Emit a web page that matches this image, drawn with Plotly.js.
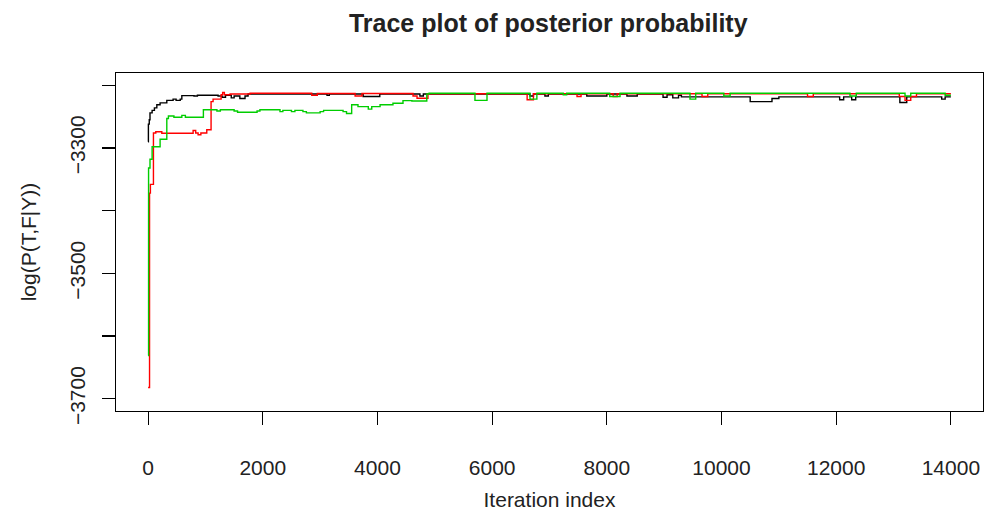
<!DOCTYPE html>
<html>
<head>
<meta charset="utf-8">
<script src="https://cdn.plot.ly/plotly-3.0.1.min.js"></script>
<style>html,body{margin:0;padding:0;background:#fff;}#chart{width:995px;height:511px;}</style>
</head>
<body>
<div id="chart"></div>
<script>
const blackIter = [0, 5, 20, 33, 70, 110, 152, 209, 326, 436, 488, 560, 588, 800, 860, 1000, 1220, 1290, 1350, 1450, 1500, 1600, 1690, 1743, 3120, 3160, 3750, 4040, 4740, 4800, 6660, 6720, 6920, 6980, 7650, 8000, 8350, 8530, 8980, 9050, 9150, 9250, 9300, 10500, 10880, 11000, 12060, 12130, 12270, 12340, 13110, 13230, 13840, 13900, 14000];
const blackVal = [-3290, -3262, -3255, -3244, -3240, -3236, -3231, -3228, -3224, -3222, -3224, -3222, -3216.5, -3217, -3216, -3216, -3217, -3219, -3216, -3220, -3217, -3221, -3217, -3214, -3216, -3214, -3218, -3214, -3217, -3214, -3217, -3214, -3217, -3214, -3217, -3214, -3217, -3214, -3219, -3215, -3220, -3216, -3218.5, -3226, -3221, -3218.5, -3223, -3218.5, -3223, -3218.5, -3227.5, -3218.5, -3222, -3218.5, -3218.5];

const redIter = [0, 25, 40, 93, 134, 239, 785, 830, 872, 920, 1023, 1098, 1133, 1273, 1300, 1330, 1430, 1778, 2854, 2950, 3610, 3730, 4620, 4690, 4880, 6610, 6720, 7480, 7550, 8110, 8180, 9660, 9760, 11500, 11600, 13100, 13200, 13300, 13400, 14000];
const redVal = [-3682, -3372, -3358, -3276, -3274, -3276.5, -3272, -3276, -3279, -3276, -3271, -3226, -3222, -3215, -3211.5, -3215, -3214, -3212.7, -3216, -3213, -3217, -3213, -3217, -3220.6, -3213.5, -3223, -3213.5, -3218, -3213.5, -3218, -3213.5, -3218, -3213.5, -3218, -3213.5, -3218, -3224, -3218, -3213.5, -3213.5];

const greenIter = [0, 8, 33, 70, 209, 326, 354, 450, 588, 650, 964, 1200, 1260, 1500, 1560, 1900, 1950, 2300, 2350, 2500, 2560, 2700, 2760, 3000, 3060, 3400, 3460, 3550, 3660, 3840, 3900, 4045, 4270, 4445, 4600, 4860, 4900, 5700, 5910, 6660, 6780, 7240, 7300, 8050, 8230, 9450, 9550, 10040, 10150, 12240, 12350, 13200, 13300, 13900, 14000];
const greenVal = [-3631, -3332, -3318, -3298, -3286, -3253, -3249, -3251, -3248, -3251, -3239, -3241, -3239, -3241, -3243, -3241, -3239, -3242, -3240, -3242, -3240, -3242, -3244, -3242, -3240, -3242, -3245, -3231, -3234, -3238, -3234, -3231, -3228.6, -3224.4, -3225, -3214, -3212.6, -3224, -3212.6, -3222, -3212.6, -3215, -3212.6, -3218, -3212.6, -3222, -3212.6, -3217, -3212.6, -3217, -3212.6, -3217, -3212.6, -3216, -3216];

const xTickVals = [0, 2000, 4000, 6000, 8000, 10000, 12000, 14000];
const xTickText = ['0', '2000', '4000', '6000', '8000', '10000', '12000', '14000'];
const yTickVals = [-3700, -3600, -3500, -3400, -3300, -3200];
const yTickText = ['\u22123700', '', '\u22123500', '', '\u22123300', ''];

const FONT = 'Liberation Sans, Arial, Helvetica, sans-serif';

function series(x, y, color) {
  return {x: x, y: y, type: 'scatter', mode: 'lines', line: {color: color, width: 1.4, shape: 'hv'}, hoverinfo: 'skip', showlegend: false};
}

const data = [
  series(blackIter, blackVal, '#000000'),
  series(redIter, redVal, '#FF0000'),
  series(greenIter, greenVal, '#00CD00')
];

const layout = {
  width: 995, height: 511,
  margin: {l: 116, r: 12, t: 73, b: 100, pad: 0},
  paper_bgcolor: '#ffffff', plot_bgcolor: '#ffffff',
  font: {family: FONT, size: 21, color: '#000000'},
  showlegend: false,
  title: {text: '<b>Trace plot of posterior probability</b>', font: {family: FONT, size: 25, color: '#222222'}, x: 0.551, xref: 'container', xanchor: 'center', y: 0.955, yref: 'container', yanchor: 'middle'},
  xaxis: {
    range: [-560, 14560], tickmode: 'array', tickvals: xTickVals, ticktext: xTickText,
    ticks: 'outside', ticklen: 13, tickwidth: 1.2, tickcolor: '#000',
    showline: true, mirror: true, linecolor: '#000', linewidth: 1.3,
    showgrid: false, zeroline: false,
    tickfont: {family: FONT, size: 21, color: '#222'},
    ticklabelstandoff: 24,
    title: {text: 'Iteration index', font: {family: FONT, size: 21, color: '#222'}, standoff: 24},
    automargin: false
  },
  yaxis: {
    range: [-3719.5, -3180.4], tickmode: 'array', tickvals: yTickVals, ticktext: yTickText,
    ticks: 'outside', ticklen: 13, tickwidth: 1.2, tickcolor: '#000',
    showline: true, mirror: true, linecolor: '#000', linewidth: 1.3,
    showgrid: false, zeroline: false, tickangle: -90,
    tickfont: {family: FONT, size: 21, color: '#222'},
    ticklabelstandoff: 8,
    title: {text: 'log(P(T,F|Y))', font: {family: FONT, size: 21, color: '#222'}, standoff: 24},
    automargin: false
  }
};

Plotly.newPlot('chart', data, layout, {displayModeBar: false, staticPlot: true});
</script>
</body>
</html>
